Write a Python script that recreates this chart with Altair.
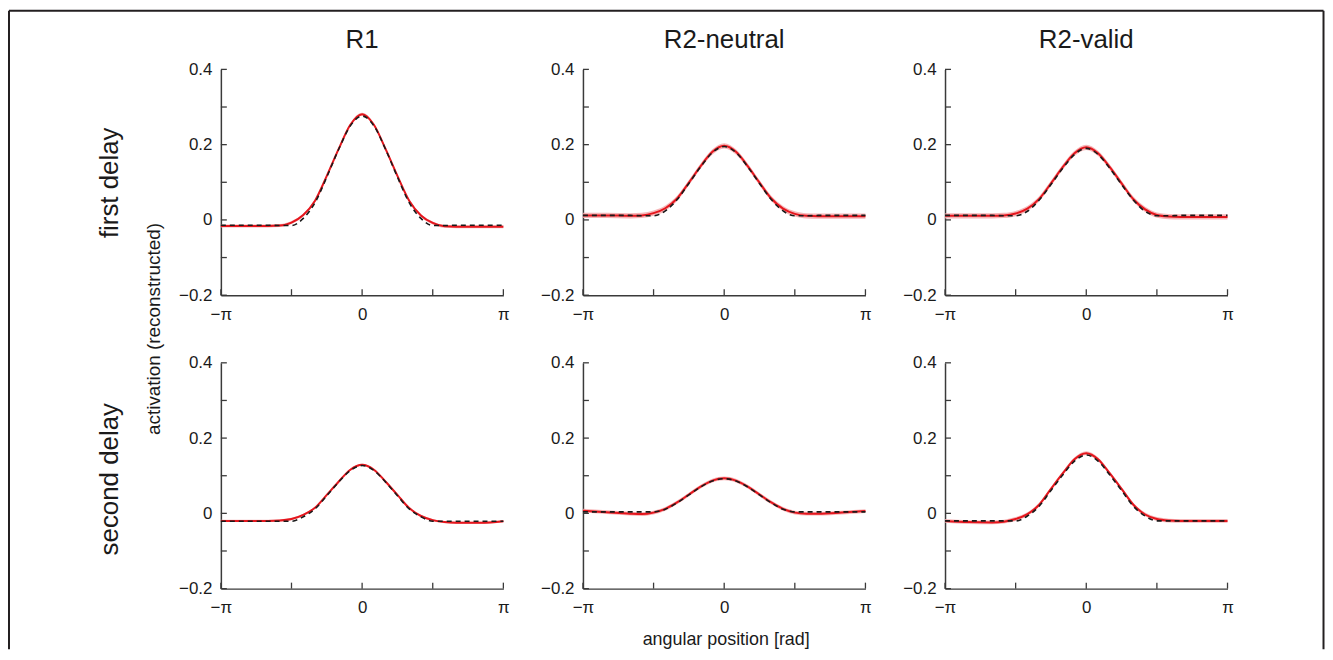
import altair as alt
import pandas as pd

# ---------------- data ----------------
# angular positions (degrees; axis is labelled in radians -pi..pi)
deg = [-180, -150, -120, -105, -90, -75, -60, -45, -30, -15, 0,
       15, 30, 45, 60, 75, 90, 105, 120, 150, 180]

col_titles = ["R1", "R2-neutral", "R2-valid"]
row_titles = ["first delay", "second delay"]

# first delay
r1_first_mean = [-0.016, -0.016, -0.016, -0.015, -0.007, 0.013, 0.051, 0.117, 0.188, 0.253, 0.281,
                 0.253, 0.188, 0.117, 0.051, 0.012, -0.008, -0.017, -0.018, -0.018, -0.018]
r1_first_fit = [-0.014, -0.014, -0.014, -0.015, -0.015, 0.004, 0.046, 0.114, 0.187, 0.250, 0.276,
                0.250, 0.187, 0.114, 0.046, 0.004, -0.015, -0.015, -0.014, -0.014, -0.014]
r2n_first_mean = [0.012, 0.012, 0.011, 0.012, 0.018, 0.031, 0.057, 0.099, 0.143, 0.181, 0.197,
                  0.181, 0.143, 0.099, 0.057, 0.030, 0.016, 0.011, 0.010, 0.010, 0.010]
r2n_first_fit = [0.012, 0.012, 0.012, 0.011, 0.011, 0.024, 0.054, 0.097, 0.141, 0.179, 0.195,
                 0.179, 0.141, 0.097, 0.054, 0.024, 0.011, 0.011, 0.012, 0.012, 0.012]
r2v_first_mean = [0.011, 0.011, 0.011, 0.012, 0.017, 0.030, 0.056, 0.097, 0.140, 0.177, 0.193,
                  0.177, 0.140, 0.097, 0.055, 0.028, 0.013, 0.009, 0.008, 0.008, 0.008]
r2v_first_fit = [0.012, 0.012, 0.012, 0.011, 0.011, 0.023, 0.053, 0.094, 0.137, 0.174, 0.190,
                 0.174, 0.137, 0.094, 0.053, 0.023, 0.011, 0.011, 0.012, 0.012, 0.012]

# second delay
r1_second_mean = [-0.020, -0.020, -0.020, -0.019, -0.015, -0.004, 0.015, 0.049, 0.084, 0.116, 0.129,
                  0.116, 0.084, 0.049, 0.014, -0.007, -0.018, -0.023, -0.025, -0.025, -0.021]
r1_second_fit = [-0.021, -0.021, -0.021, -0.021, -0.021, -0.009, 0.012, 0.047, 0.083, 0.114, 0.127,
                 0.114, 0.083, 0.047, 0.012, -0.009, -0.021, -0.021, -0.021, -0.021, -0.021]
r2n_second_mean = [0.007, 0.003, -0.001, -0.002, 0.002, 0.012, 0.029, 0.050, 0.071, 0.087, 0.093,
                   0.087, 0.071, 0.050, 0.029, 0.012, 0.002, -0.001, -0.001, 0.002, 0.006]
r2n_second_fit = [0.004, 0.004, 0.004, 0.004, 0.004, 0.011, 0.028, 0.049, 0.070, 0.086, 0.092,
                  0.086, 0.070, 0.049, 0.028, 0.011, 0.004, 0.004, 0.004, 0.004, 0.004]
r2v_second_mean = [-0.020, -0.023, -0.024, -0.022, -0.015, -0.002, 0.023, 0.065, 0.106, 0.144, 0.160,
                   0.144, 0.106, 0.065, 0.023, -0.003, -0.015, -0.019, -0.020, -0.020, -0.020]
r2v_second_fit = [-0.020, -0.020, -0.020, -0.020, -0.020, -0.007, 0.019, 0.061, 0.102, 0.139, 0.155,
                  0.139, 0.102, 0.061, 0.019, -0.007, -0.020, -0.020, -0.020, -0.020, -0.020]

# half-width of the shaded error band in each panel
band_halfwidth = [0.004, 0.007, 0.007, 0.003, 0.005, 0.005]

y_tick_values = [-0.2, -0.1, 0.0, 0.1, 0.2, 0.3, 0.4]
y_label_values = [-0.2, 0.0, 0.2, 0.4]
x_tick_values = [-180, -90, 0, 90, 180]
x_label_values = [-180, 0, 180]

# ---------------- styling ----------------
FONT = "Liberation Sans"
RED = "#e5161d"
BAND = "#f5a9ab"
DARK = "#1a1a1a"
AXIS_COLOR = "#3a3a3a"
W, H = 284, 227

X_SCALE = alt.Scale(domain=[-180, 180], nice=False, zero=False)
Y_SCALE = alt.Scale(domain=[-0.2, 0.4], nice=False, zero=False)

x_axis = alt.Axis(values=x_label_values,
                  labelExpr="datum.value < -1 ? '\u2212\u03c0' : (datum.value > 1 ? '\u03c0' : '0')",
                  ticks=False, tickSize=0, grid=False, domainColor=AXIS_COLOR, domainWidth=1.5,
                  labelFont=FONT, labelFontSize=17, labelColor=DARK, labelPadding=24,
                  labelBaseline="alphabetic", labelFlush=False, labelOverlap=False,
                  labelBound=False, title=None)
y_axis = alt.Axis(values=y_label_values,
                  labelExpr="datum.value == 0 ? '0' : replace(format(datum.value, '.1f'), '-', '\u2212')",
                  ticks=False, tickSize=0, grid=False, domainColor=AXIS_COLOR, domainWidth=1.5,
                  labelFont=FONT, labelFontSize=17, labelColor=DARK, labelPadding=9,
                  labelFlush=False, labelOverlap=False, labelBound=False, title=None)

one = pd.DataFrame({"k": [0]})


def text_layer(txt, x, y, size, angle=0, baseline="alphabetic"):
    kw = dict(text=txt, font=FONT, fontSize=size, color=DARK, align="center", baseline=baseline)
    if angle:
        kw["angle"] = angle
    return alt.Chart(one).mark_text(**kw).encode(x=alt.value(x), y=alt.value(y))


def frame_line(x1, y1, x2, y2):
    return alt.Chart(one).mark_rule(color="#231f20", strokeWidth=2).encode(
        x=alt.value(x1), y=alt.value(y1), x2=alt.value(x2), y2=alt.value(y2))


def panel(mean, fit, hw, extra):
    df = pd.DataFrame({"deg": deg, "mean": mean, "fit": fit})
    df["lo"] = df["mean"] - hw
    df["hi"] = df["mean"] + hw
    base = alt.Chart(df)
    band = base.mark_area(color=BAND, opacity=0.85, interpolate="monotone").encode(
        x=alt.X("deg:Q", scale=X_SCALE, axis=x_axis),
        y=alt.Y("lo:Q", scale=Y_SCALE, axis=y_axis),
        y2="hi:Q",
    )
    red = base.mark_line(color=RED, strokeWidth=2, interpolate="monotone").encode(
        x=alt.X("deg:Q", scale=X_SCALE, axis=x_axis),
        y=alt.Y("mean:Q", scale=Y_SCALE, axis=y_axis),
    )
    dashed = base.mark_line(color=DARK, strokeWidth=1.6, strokeDash=[5, 4],
                            interpolate="monotone").encode(
        x=alt.X("deg:Q", scale=X_SCALE, axis=x_axis),
        y=alt.Y("fit:Q", scale=Y_SCALE, axis=y_axis),
    )
    yt = alt.Chart(pd.DataFrame({"v": y_tick_values})).mark_rule(
        color=AXIS_COLOR, strokeWidth=1.3).encode(
        y=alt.Y("v:Q", scale=Y_SCALE, axis=y_axis), x=alt.value(0), x2=alt.value(6))
    xt = alt.Chart(pd.DataFrame({"v": x_tick_values})).mark_rule(
        color=AXIS_COLOR, strokeWidth=1.3).encode(
        x=alt.X("v:Q", scale=X_SCALE, axis=x_axis), y=alt.value(H), y2=alt.value(H - 6))
    return alt.layer(band, red, dashed, yt, xt, *extra).properties(width=W, height=H)


# figure frame (left, top, right edges; bottom edge lies outside the view)
FL, FT, FR, FB = -213, -59, 1108.5, 583
frame = [frame_line(FL, FT, FR, FT), frame_line(FL, FT, FL, FB), frame_line(FR, FT, FR, FB)]

p1 = panel(r1_first_mean, r1_first_fit, band_halfwidth[0],
           frame + [text_layer(col_titles[0], W / 2, -22, 26),
                    text_layer(row_titles[0], -111, 114, 26, angle=270, baseline="middle")])
p2 = panel(r2n_first_mean, r2n_first_fit, band_halfwidth[1],
           [text_layer(col_titles[1], W / 2, -22, 26)])
p3 = panel(r2v_first_mean, r2v_first_fit, band_halfwidth[2],
           [text_layer(col_titles[2], W / 2, -22, 26)])
p4 = panel(r1_second_mean, r1_second_fit, band_halfwidth[3],
           [text_layer(row_titles[1], -111, 117, 26, angle=270, baseline="middle"),
            text_layer("activation (reconstructed)", -67, -34, 19, angle=270, baseline="middle")])
p5 = panel(r2n_second_mean, r2n_second_fit, band_halfwidth[4],
           [text_layer("angular position [rad]", W / 2 + 2, 284, 18)])
p6 = panel(r2v_second_mean, r2v_second_fit, band_halfwidth[5], [])

chart = alt.concat(p1, p2, p3, p4, p5, p6, columns=3,
                   spacing={"row": 68, "column": 80}, bounds="flush").properties(
    padding=0, background="white"
).configure_view(stroke=None)

chart.save("out.html", embed_options={"renderer": "svg", "actions": False})
